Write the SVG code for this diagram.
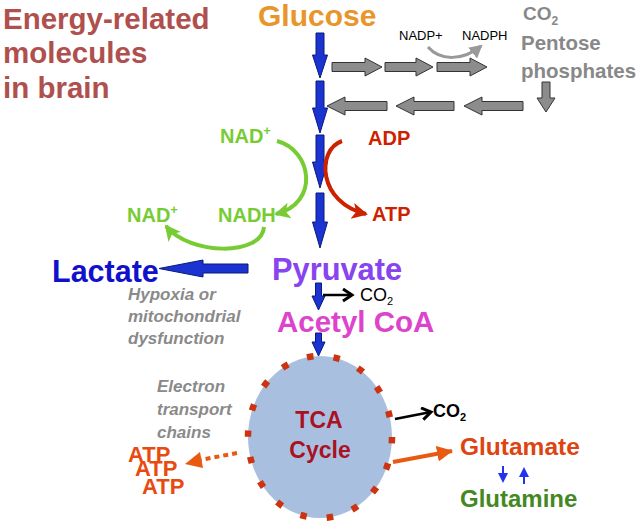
<svg xmlns="http://www.w3.org/2000/svg" width="641" height="521" viewBox="0 0 641 521">
<style>
text{font-family:"Liberation Sans",Arial,sans-serif;font-weight:bold}
.blue{fill:#1b33d0;stroke:#0b1a7a;stroke-width:1}
.gray{fill:#8c8c8c;stroke:#333;stroke-width:1}
.g{fill:#888}
.it{font-style:italic;fill:#8a8a8a;font-size:17px}
.n{font-weight:normal}
</style>
<defs>
<marker id="mg" markerUnits="userSpaceOnUse" markerWidth="20" markerHeight="20" refX="14" refY="8" orient="auto"><path d="M0,0 L16,8 L0,16 L4,8 Z" fill="#77cc33"/></marker>
<marker id="mr" markerUnits="userSpaceOnUse" markerWidth="20" markerHeight="20" refX="14" refY="8" orient="auto"><path d="M0,0 L16,8 L0,16 L4,8 Z" fill="#cc2200"/></marker>
<marker id="mgr" markerUnits="userSpaceOnUse" markerWidth="16" markerHeight="16" refX="11" refY="7" orient="auto"><path d="M0,0 L13,7 L0,14 Z" fill="#999"/></marker>
<marker id="mk" markerUnits="userSpaceOnUse" markerWidth="16" markerHeight="16" refX="10" refY="7" orient="auto"><path d="M1,1 L10,7 L1,13" fill="none" stroke="#000" stroke-width="3"/></marker>
<marker id="mo" markerUnits="userSpaceOnUse" markerWidth="20" markerHeight="20" refX="15" refY="8" orient="auto"><path d="M0,0 L16,8 L0,16 Z" fill="#e85a12"/></marker>
<marker id="mb" markerUnits="userSpaceOnUse" markerWidth="12" markerHeight="12" refX="5" refY="5" orient="auto"><path d="M0,0 L10,5 L0,10 Z" fill="#2233ee"/></marker>
</defs>

<g id="title"><text x="3" y="29" font-size="29.5" fill="#b0504e">Energy-related</text><text x="3" y="63" font-size="29.5" fill="#b0504e">molecules</text><text x="3" y="98" font-size="29.5" fill="#b0504e">in brain</text></g>

<g id="glucose"><text x="258" y="26" font-size="30" fill="#e8952a">Glucose</text></g>

<g id="pentose">
<text x="523" y="20" font-size="19" class="g">CO<tspan font-size="12" dy="5">2</tspan></text>
<text x="521" y="50" font-size="20.5" class="g">Pentose</text>
<text x="521" y="78" font-size="20.5" class="g">phosphates</text>
</g>

<g id="nadp"><text x="399" y="40" font-size="13" fill="#000" class="n">NADP+</text><text x="462" y="40" font-size="13" fill="#000" class="n">NADPH</text></g>

<g id="nad-top"><text x="220" y="143" font-size="20" fill="#77cc33">NAD<tspan font-size="13" dy="-8">+</tspan></text></g>
<g id="nadh"><text x="218" y="222" font-size="20" fill="#77cc33">NADH</text></g>
<g id="nad-left"><text x="127" y="222" font-size="20" fill="#77cc33">NAD<tspan font-size="13" dy="-8">+</tspan></text></g>
<g id="adp"><text x="368" y="145" font-size="20" fill="#cc2200">ADP</text></g>
<g id="atp-top"><text x="372" y="221" font-size="20" fill="#cc2200">ATP</text></g>

<g id="lactate"><text x="52" y="282" font-size="30.5" fill="#1111cc">Lactate</text></g>
<g id="pyruvate"><text x="272" y="280" font-size="30.8" fill="#8844ee">Pyruvate</text></g>
<g id="hypoxia"><text x="128" y="300" class="it">Hypoxia or</text><text x="128" y="322" class="it">mitochondrial</text><text x="128" y="344" class="it">dysfunction</text></g>
<g id="co2-pyr"><text x="360" y="301" font-size="18" fill="#000" class="n">CO<tspan font-size="11" dy="4">2</tspan></text></g>
<g id="acetyl"><text x="277" y="332" font-size="29.5" fill="#dd44cc">Acetyl CoA</text></g>

<g id="tca">
<ellipse cx="320" cy="437" rx="72" ry="81" fill="#a9bfe0" stroke="#cc3311" stroke-width="6.5" stroke-dasharray="6.5 20.2"/>
<text x="319" y="428" font-size="23" fill="#aa1122" text-anchor="middle">TCA</text>
<text x="320" y="458" font-size="23" fill="#aa1122" text-anchor="middle">Cycle</text>
</g>

<g id="electron"><text x="157" y="392" class="it">Electron</text><text x="157" y="415" class="it">transport</text><text x="157" y="438" class="it">chains</text></g>
<g id="atps"><text x="128" y="462" font-size="22" fill="#e84a10">ATP</text><text x="135" y="476" font-size="22" fill="#e84a10">ATP</text><text x="142" y="494" font-size="22" fill="#e84a10">ATP</text></g>
<g id="co2-tca"><text x="433" y="417" font-size="18" fill="#000">CO<tspan font-size="11" dy="4">2</tspan></text></g>
<g id="glutamate"><text x="460" y="455" font-size="24.5" fill="#dd4411">Glutamate</text></g>
<g id="glutamine"><text x="460" y="507" font-size="24" fill="#448822">Glutamine</text></g>

<g id="connectors">
<polygon class="blue" points="316,33 324,33 324,55 327.5,55 320,78 312.5,55 316,55"/>
<polygon class="blue" points="316,81 324,81 324,108 327.5,108 320,133 312.5,108 316,108"/>
<polygon class="blue" points="316,135 324,135 324,162 327.5,162 320,188 312.5,162 316,162"/>
<polygon class="blue" points="316,193 324,193 324,222 327.5,222 320,248 312.5,222 316,222"/>
<polygon class="blue" points="315.5,283 321.5,283 321.5,296 325,296 318.5,310 312,296 315.5,296"/>
<polygon class="blue" points="315.5,333 321.5,333 321.5,342 325,342 318.5,356 312,342 315.5,342"/>
<polygon class="blue" points="248,264 248,273 203,273 203,277 159,268.5 203,260 203,264"/>
<polygon class="gray" points="332,62.5 365,62.5 365,58 382,67 365,76 365,71.5 332,71.5"/>
<polygon class="gray" points="385,62.5 416,62.5 416,58 433,67 416,76 416,71.5 385,71.5"/>
<polygon class="gray" points="437,62.5 470,62.5 470,58 487,67 470,76 470,71.5 437,71.5"/>
<polygon class="gray" points="327,106 345,97 345,101.5 387,101.5 387,110.5 345,110.5 345,115"/>
<polygon class="gray" points="396,106 414,97 414,101.5 454,101.5 454,110.5 414,110.5 414,115"/>
<polygon class="gray" points="464,106 482,97 482,101.5 523,101.5 523,110.5 482,110.5 482,115"/>
<polygon class="gray" points="542,82 550,82 550,98 555,98 546,112 537,98 542,98"/>
<path d="M428,47 C440,61 463,61 481,46" fill="none" stroke="#999" stroke-width="3" marker-end="url(#mgr)"/>
<path d="M277,141 C312,150 320,203 276,214" fill="none" stroke="#77cc33" stroke-width="4" marker-end="url(#mg)"/>
<path d="M264,227 C262,256 190,256 166,226" fill="none" stroke="#77cc33" stroke-width="4" marker-end="url(#mg)"/>
<path d="M342,141 C316,150 318,203 366,214" fill="none" stroke="#cc2200" stroke-width="4" marker-end="url(#mr)"/>
<path d="M323,295 L352,295" fill="none" stroke="#000" stroke-width="2.5" marker-end="url(#mk)"/>
<path d="M395,419 L431,412" fill="none" stroke="#000" stroke-width="2.5" marker-end="url(#mk)"/>
<path d="M393,462 L452,451" fill="none" stroke="#e85a12" stroke-width="4" marker-end="url(#mo)"/>
<path d="M237,453 L200,460" fill="none" stroke="#e85a12" stroke-width="4" stroke-dasharray="5 4"/>
<polygon points="200,452 185,464 203,468" fill="#e85a12"/>
<path d="M503,466 L503,478" stroke="#2233ee" stroke-width="2" marker-end="url(#mb)"/>
<path d="M524,484 L524,472" stroke="#2233ee" stroke-width="2" marker-end="url(#mb)"/>
</g>
</svg>
